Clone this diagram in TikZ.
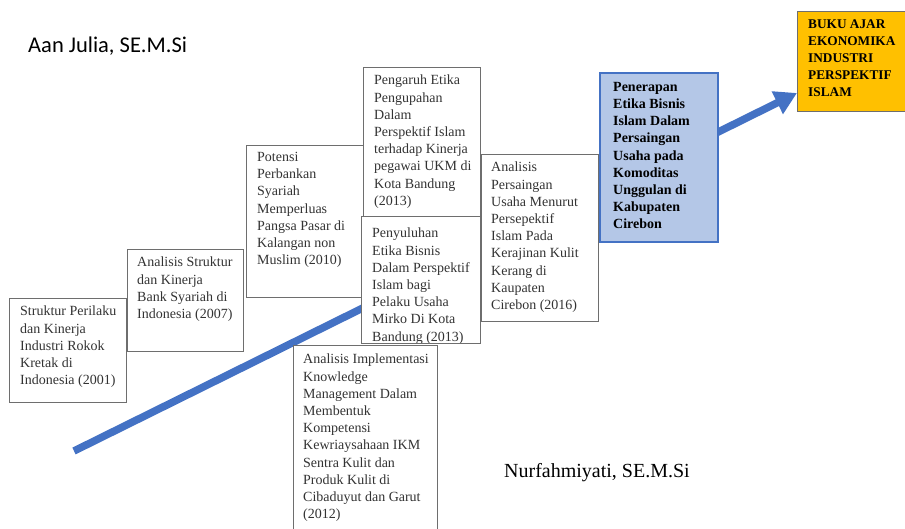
\documentclass[tikz,border=0pt]{standalone}
\usepackage{fontspec}
\setmainfont{Liberation Serif}
\newfontfamily\authorsans{Carlito}
\usetikzlibrary{arrows.meta,calc}
\pgfdeclarelayer{bg}
\pgfsetlayers{bg,main}
\definecolor{arrowblue}{HTML}{4472C4}
\definecolor{lightblue}{HTML}{B4C7E7}
\definecolor{gold}{HTML}{FFC000}
\definecolor{boxgray}{HTML}{6E6E6E}
\definecolor{textgray}{HTML}{333333}
\tikzset{
  box/.style={draw=boxgray, fill=white, line width=0.8pt, anchor=north west, inner sep=0pt, outer sep=0pt},
  boxtext/.style={anchor=north west, inner sep=0pt, align=left, text=textgray, font=\fontsize{14}{17.2}\selectfont},
  boldtext/.style={anchor=north west, inner sep=0pt, align=left, text=black, font=\fontsize{14}{17.2}\selectfont\bfseries},
  author/.style={anchor=base west, inner sep=0pt, text=black},
  bigarrow/.style={draw=arrowblue, line width=7.5pt, -{Triangle[length=22pt,width=24pt,fill=arrowblue]}}
}
\begin{document}
\begin{tikzpicture}[x=1pt,y=-1pt]
\useasboundingbox (0,0) rectangle (905,529);

% authors
\node[author, font=\authorsans\fontsize{22.5}{26}\selectfont] (aan) at (28,53) {Aan Julia, SE.M.Si};
\node[author, font=\fontsize{20}{24}\selectfont] (nur) at (504,477) {Nurfahmiyati, SE.M.Si};

% boxes
\node[box, minimum width=117pt, minimum height=104pt] (b1) at (9,298) {};
\node[boxtext] (t1) at ($(b1.north west)+(11,8)$) {Struktur Perilaku\\dan Kinerja\\Industri Rokok\\Kretak di\\Indonesia (2001)};

\node[box, minimum width=116pt, minimum height=102pt] (b2) at (127,249) {};
\node[boxtext] (t2) at ($(b2.north west)+(10,8)$) {Analisis Struktur\\dan Kinerja\\Bank Syariah di\\Indonesia (2007)};

\node[box, minimum width=117pt, minimum height=152pt] (b3) at (246,145) {};
\node[boxtext] (t3) at ($(b3.north west)+(11,7)$) {Potensi\\Perbankan\\Syariah\\Memperluas\\Pangsa Pasar di\\Kalangan non\\Muslim (2010)};

\node[box, minimum width=144pt, minimum height=200pt] (b6) at (293,345) {};
\node[boxtext] (t6) at ($(b6.north west)+(10,9)$) {Analisis Implementasi\\Knowledge\\Management Dalam\\Membentuk\\Kompetensi\\Kewriaysahaan IKM\\Sentra Kulit dan\\Produk Kulit di\\Cibaduyut dan Garut\\(2012)};

\node[box, minimum width=117pt, minimum height=149pt] (b4) at (363,67) {};
\node[boxtext] (t4) at ($(b4.north west)+(11,8)$) {Pengaruh Etika\\Pengupahan\\Dalam\\Perspektif Islam\\terhadap Kinerja\\pegawai UKM di\\Kota Bandung\\(2013)};

\node[box, minimum width=119pt, minimum height=127pt] (b5) at (361,216) {};
\begin{scope}
\clip (b5.north west) rectangle (b5.south east);
\node[boxtext] (t5) at ($(b5.north west)+(11,12)$) {Penyuluhan\\Etika Bisnis\\Dalam Perspektif\\Islam bagi\\Pelaku Usaha\\Mirko Di Kota\\Bandung (2013)};
\end{scope}

\node[box, minimum width=117pt, minimum height=167pt] (b7) at (481,154) {};
\node[boxtext] (t7) at ($(b7.north west)+(10,8)$) {Analisis\\Persaingan\\Usaha Menurut\\Persepektif\\Islam Pada\\Kerajinan Kulit\\Kerang di\\Kaupaten\\Cirebon (2016)};

\node[box, draw=arrowblue, fill=lightblue, line width=1.3pt, minimum width=118pt, minimum height=169pt] (b8) at (600,73) {};
\node[boldtext] (t8) at ($(b8.north west)+(13,9)$) {Penerapan\\Etika Bisnis\\Islam Dalam\\Persaingan\\Usaha pada\\Komoditas\\Unggulan di\\Kabupaten\\Cirebon};

\node[box, draw=boxgray, fill=gold, line width=0.8pt, minimum width=110pt, minimum height=100pt] (b9) at (797,11) {};
\node[boldtext, font=\fontsize{13.3}{17}\selectfont\bfseries] (t9) at ($(b9.north west)+(11,9)$) {BUKU AJAR\\EKONOMIKA\\INDUSTRI\\PERSPEKTIF\\ISLAM};

% arrow behind boxes
\coordinate (start) at (74,451);
\begin{pgfonlayer}{bg}
\draw[bigarrow] (start) -- ($(b9.south west)+(0,-18)$);
\end{pgfonlayer}
\end{tikzpicture}
\end{document}
